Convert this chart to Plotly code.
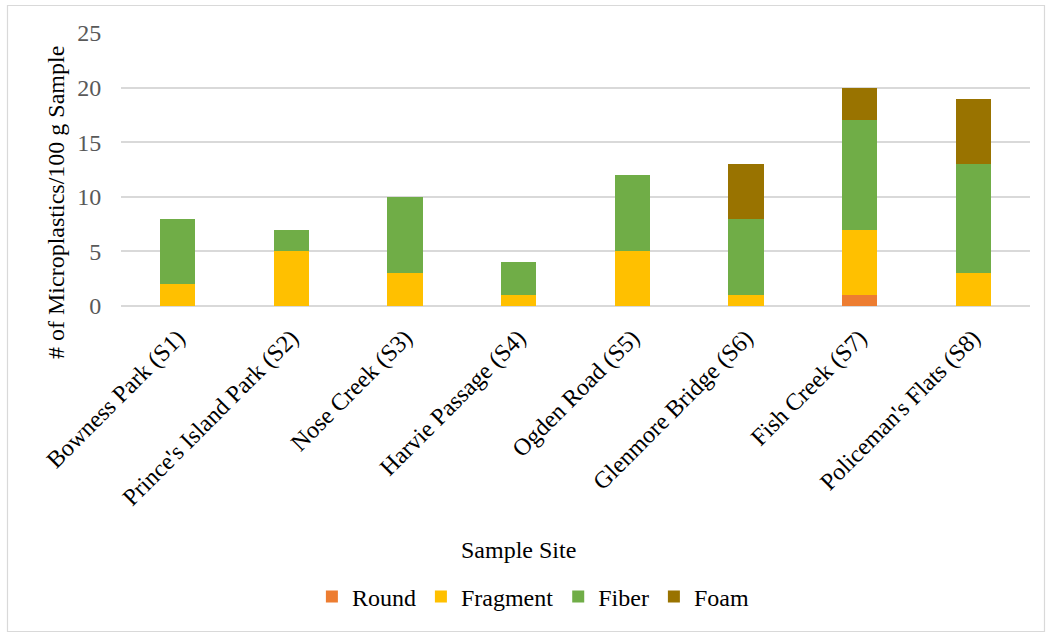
import plotly.graph_objects as go

# Sample sites and microplastic counts per 100 g sample, by particle type
sites = [
    "Bowness Park (S1)",
    "Prince's Island Park (S2)",
    "Nose Creek (S3)",
    "Harvie Passage (S4)",
    "Ogden Road (S5)",
    "Glenmore Bridge (S6)",
    "Fish Creek (S7)",
    "Policeman's Flats (S8)",
]
round_vals = [0, 0, 0, 0, 0, 0, 1, 0]
fragment_vals = [2, 5, 3, 1, 5, 1, 6, 3]
fiber_vals = [6, 2, 7, 3, 7, 7, 10, 10]
foam_vals = [0, 0, 0, 0, 0, 5, 3, 6]
y_ticks = [0, 5, 10, 15, 20, 25]

series = [
    ("Round", round_vals, "#ED7D31"),
    ("Fragment", fragment_vals, "#FFC000"),
    ("Fiber", fiber_vals, "#70AD47"),
    ("Foam", foam_vals, "#997300"),
]

FONT = "Liberation Serif, Times New Roman, serif"

fig = go.Figure()
for name, vals, color in series:
    fig.add_trace(go.Bar(
        x=sites, y=vals, name=name,
        marker=dict(color=color, line=dict(width=0)),
        width=0.31,
    ))

W, H = 1049, 634
L, R, T, B = 121, 19, 33, 328
pw, ph = W - L - R, H - T - B

def px_x(p):
    return (p - L) / pw

def px_y(p):
    return (H - B - p) / ph

fig.update_layout(
    width=W, height=H,
    barmode="stack",
    bargap=0.69,
    paper_bgcolor="white",
    plot_bgcolor="white",
    margin=dict(l=L, r=R, t=T, b=B, autoexpand=False),
    font=dict(family=FONT, color="black", size=24),
    showlegend=True,
    legend=dict(
        orientation="h",
        xref="container", yref="container",
        x=0.508, xanchor="center",
        y=1 - 597 / H, yanchor="middle",
        font=dict(family=FONT, size=24, color="black"),
        traceorder="normal",
        itemwidth=30,
        tracegroupgap=0,
    ),
    xaxis=dict(
        tickangle=-45,
        tickfont=dict(family=FONT, size=24, color="black"),
        showgrid=False,
        showline=False,
        ticks="",
        ticklabelstandoff=12,
    ),
    yaxis=dict(
        range=[0, 25],
        tickvals=y_ticks,
        tickfont=dict(family=FONT, size=24, color="#595959"),
        showgrid=True,
        gridcolor="#D9D9D9",
        gridwidth=1.5,
        zeroline=True,
        zerolinecolor="#D9D9D9",
        zerolinewidth=1.5,
        showline=False,
        ticks="outside",
        ticklen=14,
        tickcolor="rgba(0,0,0,0)",
    ),
    annotations=[
        dict(
            text="# of Microplastics/100 g Sample",
            xref="paper", yref="paper",
            x=px_x(56), y=px_y(203),
            xanchor="center", yanchor="middle",
            textangle=-90, showarrow=False,
            font=dict(family=FONT, size=24, color="black"),
        ),
        dict(
            text="Sample Site",
            xref="paper", yref="paper",
            x=px_x(518), y=px_y(550),
            xanchor="center", yanchor="middle",
            showarrow=False,
            font=dict(family=FONT, size=24, color="black"),
        ),
    ],
    shapes=[
        dict(
            type="rect", xref="paper", yref="paper",
            x0=px_x(7.5), x1=px_x(1044.5),
            y0=px_y(631.5), y1=px_y(5.5),
            line=dict(color="#D9D9D9", width=1.2),
            fillcolor="rgba(0,0,0,0)",
            layer="below",
        )
    ],
)

fig.write_html("out.html")
